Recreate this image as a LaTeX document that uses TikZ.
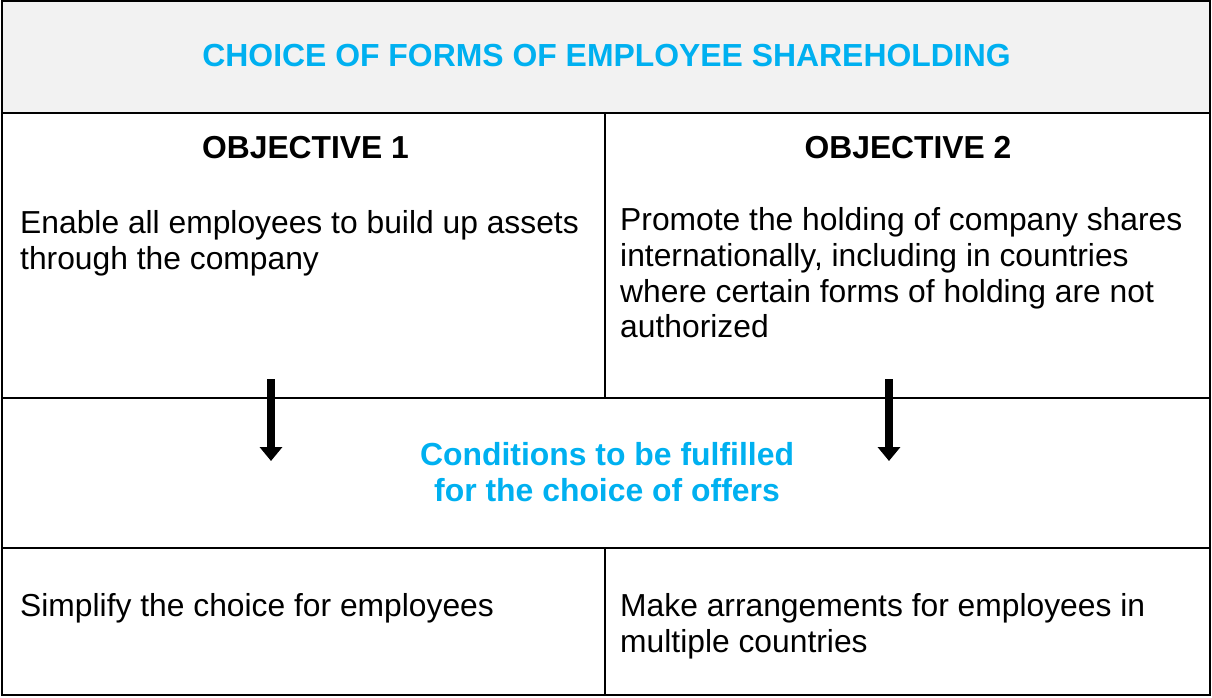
\documentclass[tikz,border=0pt]{standalone}
\usepackage{fontspec}
\setmainfont{Liberation Sans}
\usetikzlibrary{arrows.meta}
\definecolor{titleblue}{HTML}{00B0F0}
\definecolor{headgray}{HTML}{F2F2F2}
\tikzset{
  frame/.style={line width=2.8pt},
  rule/.style={line width=2.2pt},
  heading/.style={font=\fontsize{31.8}{36}\selectfont\bfseries, anchor=center, inner sep=0pt},
  bluehead/.style={font=\fontsize{31.9}{36.7}\selectfont\bfseries, text=titleblue, align=center, anchor=center, inner sep=0pt},
  body/.style={font=\fontsize{31.8}{35.7}\selectfont, align=left, anchor=north west, inner sep=0pt},
  bigarrow/.style={line width=8pt, -{Triangle[width=22pt,length=14pt]}},
}
\begin{document}
\begin{tikzpicture}[x=1pt,y=-1pt]
\useasboundingbox (0,0) rectangle (1212,697);
% header
\fill[headgray] (2,1) rectangle (1210,113);
% rules
\draw[rule] (2,113) -- (1210,113);
\draw[rule] (2,398) -- (1210,398);
\draw[rule] (2,548) -- (1210,548);
\draw[rule] (605,113) -- (605,398);
\draw[rule] (605,548) -- (605,695);
\draw[frame] (2,1) rectangle (1210,695);
% texts
\node[bluehead] (title) at (606.5,55.5) {CHOICE OF FORMS OF EMPLOYEE SHAREHOLDING};
\node[heading] (obj1) at (305.5,147.5) {OBJECTIVE 1};
\node[heading] (obj2) at (908,147.5) {OBJECTIVE 2};
\node[body] (t1) at (20,210.5) {Enable all employees to build up assets\\through the company};
\node[body] (t2) at (620,207.5) {Promote the holding of company shares\\internationally, including in countries\\where certain forms of holding are not\\authorized};
\node[bluehead] (cond) at (607,472) {Conditions to be fulfilled\\for the choice of offers};
\node[body] (b1) at (20,593.5) {Simplify the choice for employees};
\node[body] (b2) at (620,593.5) {Make arrangements for employees in\\multiple countries};
% arrows
\coordinate (a1s) at (271,379);
\coordinate (a1e) at (271,461);
\coordinate (a2s) at (889,379);
\coordinate (a2e) at (889,461);
\draw[bigarrow] (a1s) -- (a1e);
\draw[bigarrow] (a2s) -- (a2e);
\end{tikzpicture}
\end{document}
